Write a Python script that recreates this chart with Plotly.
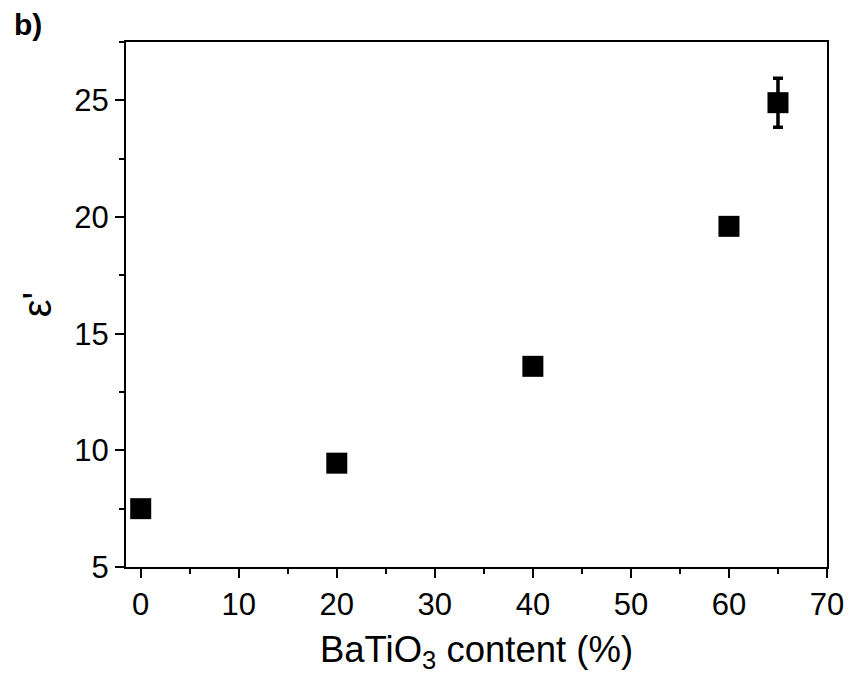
import plotly.graph_objects as go

content = [0, 20, 40, 60, 65]
eps = [7.5, 9.45, 13.6, 19.6, 24.9]
err = [0.25, 0.15, 0.15, 0.15, 1.05]

x_ticks = [0, 10, 20, 30, 40, 50, 60, 70]
y_ticks = [5, 10, 15, 20, 25]

FONT = "Arial, 'Liberation Sans', sans-serif"

fig = go.Figure()
fig.add_trace(go.Scatter(
    x=content, y=eps, mode="markers",
    marker=dict(symbol="square", size=21, color="black", line=dict(width=0)),
    error_y=dict(type="data", array=err, visible=True, color="black", thickness=3.5, width=5),
    showlegend=False,
))

axis_common = dict(
    showline=True, linecolor="black", linewidth=2, mirror=True,
    ticks="outside", ticklen=9, tickwidth=2, tickcolor="black",
    showgrid=False, zeroline=False,
    tickfont=dict(family=FONT, size=31, color="black"),
)

pa_w = 856 - 126 - 24
pa_h = 687 - 42 - 120

fig.update_layout(
    width=856, height=687,
    margin=dict(l=126, r=24, t=42, b=120),
    plot_bgcolor="white", paper_bgcolor="white",
    font=dict(family=FONT, color="black"),
    xaxis=dict(
        range=[-1.5, 70], tickvals=x_ticks,
        minor=dict(ticks="outside", ticklen=5, tickwidth=2, tickcolor="black", dtick=5, showgrid=False),
        title=dict(text="BaTiO<sub>3</sub> content (%)", font=dict(family=FONT, size=36.5, color="black"), standoff=15),
        **axis_common,
    ),
    yaxis=dict(
        range=[5, 27.5], tickvals=y_ticks,
        minor=dict(ticks="outside", ticklen=5, tickwidth=2, tickcolor="black", dtick=2.5, showgrid=False),
        title=dict(text="ε'", font=dict(family=FONT, size=40, color="black"), standoff=10),
        **axis_common,
    ),
    annotations=[dict(
        text="<b>b)</b>", x=(11 - 126) / pa_w, y=(687 - 120 - 24) / pa_h,
        xref="paper", yref="paper",
        xanchor="left", yanchor="middle", showarrow=False,
        font=dict(family=FONT, size=30, color="black"),
    )],
)

fig.write_html("out.html")
